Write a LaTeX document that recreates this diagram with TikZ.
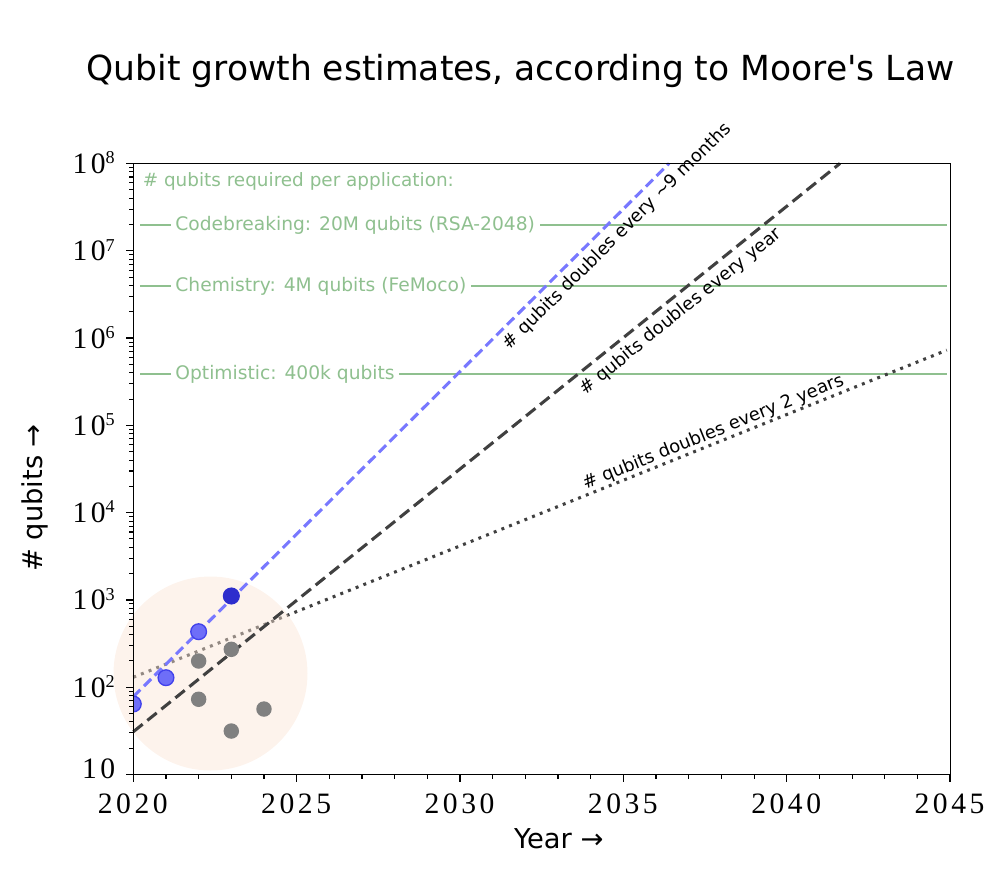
\documentclass[tikz,border=0pt]{standalone}
\usepackage{fontspec}
\setmainfont{DejaVu Sans}
\newfontfamily\titlefont{DejaVu Sans}
\newfontfamily\tickfont[LetterSpace=12]{Liberation Serif}
\definecolor{peachfill}{RGB}{250,228,213}
\definecolor{appgreen}{RGB}{143,192,143}
\definecolor{bluedash}{RGB}{120,120,255}
\definecolor{darkline}{RGB}{64,64,64}
\definecolor{bluept}{RGB}{110,110,248}
\definecolor{blueedge}{RGB}{65,65,235}
\definecolor{bluedark}{RGB}{45,45,205}
\definecolor{greypt}{RGB}{128,128,128}
\tikzset{
  appline/.style={draw=appgreen, line width=1.4pt},
  applabel/.style={fill=white, text=appgreen, inner xsep=3.5pt, inner ysep=2pt, anchor=west, font=\fontsize{14pt}{16pt}\selectfont},
  trendlabel/.style={font=\fontsize{13.4pt}{15pt}\selectfont, inner sep=0pt},
  bluetrend/.style={draw=bluedash, line width=2.3pt, dash pattern=on 7.5pt off 3.8pt},
  blacktrend/.style={draw=darkline, line width=2.3pt, dash pattern=on 9pt off 4.5pt},
  dottrend/.style={draw=darkline, line width=2.3pt, dash pattern=on 2.2pt off 4pt},
  bluedot/.style={circle, fill=bluept, draw=blueedge, line width=1pt, minimum size=11.8pt, inner sep=0pt},
  bluedotdark/.style={bluedot, fill=bluedark, draw=bluedark},
  greydot/.style={circle, fill=greypt, minimum size=11.6pt, inner sep=0pt},
  tickline/.style={draw=black, line width=1pt},
  xlab/.style={anchor=base, inner sep=0pt, font=\tickfont\fontsize{22.2pt}{24pt}\selectfont},
  ylab/.style={anchor=base east, inner sep=0pt, font=\tickfont\fontsize{22.2pt}{24pt}\selectfont},
}
\newcommand{\supexp}[1]{\raisebox{7.3pt}{\fontsize{13.6pt}{14pt}\selectfont #1}}
\begin{document}
\begin{tikzpicture}[x=0.75pt,y=-0.75pt,
  declare function={X(\u)=133.3+32.67*(\u-2020); Y(\v)=774.5-87.29*(\v-1);}]
\useasboundingbox (0,0) rectangle (1006,875);

% title
\node[anchor=base, inner sep=0pt, font=\titlefont\fontsize{25.9pt}{28pt}\selectfont] (title) at (520.5,80) {Qubit growth estimates, according to Moore's Law};

% application lines
\coordinate (c1a) at (140,225); \coordinate (c1b) at (947,225);
\coordinate (c2a) at (140,286); \coordinate (c2b) at (947,286);
\coordinate (c3a) at (140,374); \coordinate (c3b) at (947,374);
\draw[appline] (c1a) -- (c1b);
\draw[appline] (c2a) -- (c2b);
\draw[appline] (c3a) -- (c3b);

% dotted trend (under the highlight)
\coordinate (d0) at ({X(2020)},{Y(2.114)});
\coordinate (d1) at ({X(2044.9)},{Y(2.114+0.1505*24.9)});
\draw[dottrend] (d0) -- (d1);

% highlight circle
\node[circle, fill=peachfill, fill opacity=0.45, minimum size=145.5pt, inner sep=0pt] (hl) at (210.5,673.5) {};

% dashed trends
\coordinate (k0) at ({X(2020)},{Y(1.49)});
\coordinate (k1) at ({X(2041.63)},{Y(8)});
\draw[blacktrend] (k0) -- (k1);
\coordinate (b0) at ({X(2020)},{Y(1.891)});
\coordinate (b1) at ({X(2036.4)},{Y(8)});
\draw[bluetrend] (b0) -- (b1);

% data points
\begin{scope}
\clip (133.3,163.5) rectangle (950.5,774.5);
\node[greydot] (g1) at ({X(2022)},{Y(2.30)}) {};
\node[greydot] (g2) at ({X(2022)},{Y(1.862)}) {};
\node[greydot] (g3) at ({X(2023)},{Y(2.434)}) {};
\node[greydot] (g4) at ({X(2023)},{Y(1.498)}) {};
\node[greydot] (g5) at ({X(2024)},{Y(1.75)}) {};
\node[bluedot] (p1) at ({X(2020)},{Y(1.808)}) {};
\node[bluedot] (p2) at ({X(2021)},{Y(2.109)}) {};
\node[bluedot] (p3) at ({X(2022)},{Y(2.636)}) {};
\node[bluedotdark] (p4) at ({X(2023)},{Y(3.045)}) {};
\end{scope}

% frame
\draw[line width=1.1pt] (133.3,163.5) rectangle (950.5,774.5);

% y ticks
\foreach \d in {1,...,8} \draw[tickline] (126.3,{Y(\d)}) -- (133.3,{Y(\d)});
\foreach \d in {1,...,7} \foreach \k in {2,...,9}
  \draw[tickline, line width=0.8pt] (129.3,{Y(\d+log10(\k))}) -- (133.3,{Y(\d+log10(\k))});
% x ticks
\foreach \t in {2020,2025,...,2045} \draw[tickline] ({X(\t)},774.5) -- ({X(\t)},782);
\foreach \t in {2021,...,2044} \draw[tickline, line width=0.8pt] ({X(\t)},774.5) -- ({X(\t)},778.5);

% tick labels
\foreach \t in {2020,2025,...,2045} \node[xlab] at ({X(\t)-0.5},813) {\t};
\node[ylab] (y1) at (115.5,778.5) {10};
\foreach \e in {2,...,8} \node[ylab] at (115,{Y(\e)+10}) {10\supexp{\e}};

% axis labels
\node[anchor=base, inner sep=0pt, font=\fontsize{20.5pt}{22pt}\selectfont] (xl) at (558.8,848.3) {Year →};
\node[rotate=90, inner sep=0pt, font=\fontsize{20.5pt}{22pt}\selectfont] (yl) at (35,498) {\# qubits →};

% application labels
\node[anchor=west, inner sep=0pt, text=appgreen, font=\fontsize{13.8pt}{15pt}\selectfont] (apphead) at (142.5,181) {\# qubits required per application:};
\node[applabel] (code) at (170.5,225) {Codebreaking: 20M qubits (RSA-2048)};
\node[applabel] (chem) at (170.5,286) {Chemistry: 4M qubits (FeMoco)};
\node[applabel] (opt) at (170.5,374) {Optimistic: 400k qubits};

% trend labels
\node[trendlabel, rotate=44.9] (tb) at (617.3,236.5) {\# qubits doubles every {\char"7E}9 months};
\node[trendlabel, rotate=39] (tk) at (680.8,311.7) {\# qubits doubles every year};
\node[trendlabel, rotate=22] (td) at (713.3,432.5) {\# qubits doubles every 2 years};
\end{tikzpicture}
\end{document}
